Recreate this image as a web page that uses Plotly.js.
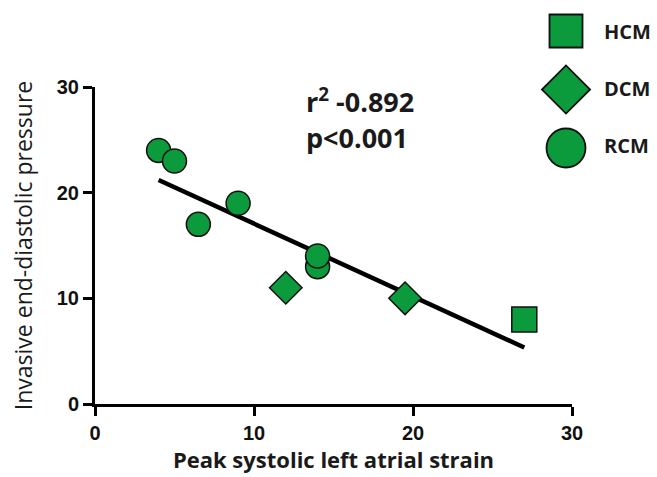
<!DOCTYPE html>
<html><head><meta charset="utf-8">
<script src="https://cdn.plot.ly/plotly-3.0.1.min.js"></script>
<style>body{margin:0;background:#fff}</style>
</head><body><div id="chart" style="width:657px;height:477px"></div>
<script>
const hcmX = [27];
const hcmY = [8];
const dcmX = [12, 19.5];
const dcmY = [11, 10];
const rcmX = [4, 5, 6.5, 9, 14, 14];
const rcmY = [24, 23, 17, 19, 13, 14];
const fitX = [4, 27];
const fitY = [21.2, 5.35];
const legendNames = ['HCM', 'DCM', 'RCM'];
const legendSymbols = ['square', 'diamond', 'circle'];
const legendSizes = [33, 37, 39];
const legendRows = [3, 2, 1];
const xTicks = [0, 10, 20, 30];
const yTicks = [0, 10, 20, 30];

const green = '#0b9a3c';
const mk = (sym, size) => ({symbol: sym, size: size, color: green, opacity: 1, line: {color: '#111', width: 1.5}});

const traces = [
  {x: fitX, y: fitY, mode: 'lines', line: {color: '#000', width: 4.5}, hoverinfo: 'skip'},
  {x: rcmX, y: rcmY, mode: 'markers', marker: mk('circle', 24)},
  {x: dcmX, y: dcmY, mode: 'markers', marker: mk('diamond', 25)},
  {x: hcmX, y: hcmY, mode: 'markers', marker: mk('square', 25)},
  {x: [0, 0, 0], y: legendRows, mode: 'markers', xaxis: 'x2', yaxis: 'y2', cliponaxis: false,
   marker: {symbol: legendSymbols, size: legendSizes, color: green, opacity: 1, line: {color: '#111', width: 1.8}}}
];

const font = 'Liberation Sans, Arial, sans-serif';
const ofont = 'Open Sans, sans-serif';
const tx = (px) => (px - 95) / 557;
const ty = (py) => (404 - py) / 394;
const ann = (text, px, py, size) => ({xref: 'paper', yref: 'paper', x: tx(px), y: ty(py), xanchor: 'left', yanchor: 'middle',
  showarrow: false, text: text, font: {family: ofont, size: size, color: '#1a1a1a', weight: 700}});

const layout = {
  width: 657, height: 477,
  margin: {l: 95, r: 5, t: 10, b: 73},
  showlegend: false,
  paper_bgcolor: '#fff', plot_bgcolor: 'rgba(0,0,0,0)',
  xaxis: {domain: [0, 477/557], range: [0, 30], tickvals: xTicks, ticks: 'outside', ticklen: 9, tickwidth: 3, tickcolor: '#000',
    showline: true, linewidth: 3, linecolor: '#000', showgrid: false, zeroline: false,
    tickfont: {family: font, size: 20, color: '#111', weight: 'bold'},
    title: {text: 'Peak systolic left atrial strain', standoff: 8,
      font: {family: ofont, size: 22, color: '#1a1a1a', weight: 700}}},
  yaxis: {domain: [0, 317/394], range: [0, 30], tickvals: yTicks, ticks: 'outside', ticklen: 9, tickwidth: 3, tickcolor: '#000',
    showline: true, linewidth: 3, linecolor: '#000', showgrid: false, zeroline: false,
    tickfont: {family: font, size: 20, color: '#111', weight: 'bold'},
    title: {text: 'Invasive end-diastolic pressure', standoff: 18,
      font: {family: ofont, size: 23, color: '#1a1a1a'}}},
  xaxis2: {domain: [0, 1], range: [-471, 86], visible: false, anchor: 'y2', fixedrange: true},
  yaxis2: {domain: [0, 1], range: [-3.376, 3.359], visible: false, anchor: 'x2', fixedrange: true},
  annotations: [
    ann(legendNames[0], 602, 32, 20),
    ann(legendNames[1], 602, 88, 20),
    ann(legendNames[2], 602, 145, 20),
    ann('r<sup>2</sup> -0.892', 304, 101, 27),
    ann('p<0.001', 304, 137, 27)
  ]
};
Plotly.newPlot('chart', traces, layout, {displayModeBar: false, staticPlot: true});
</script></body></html>
